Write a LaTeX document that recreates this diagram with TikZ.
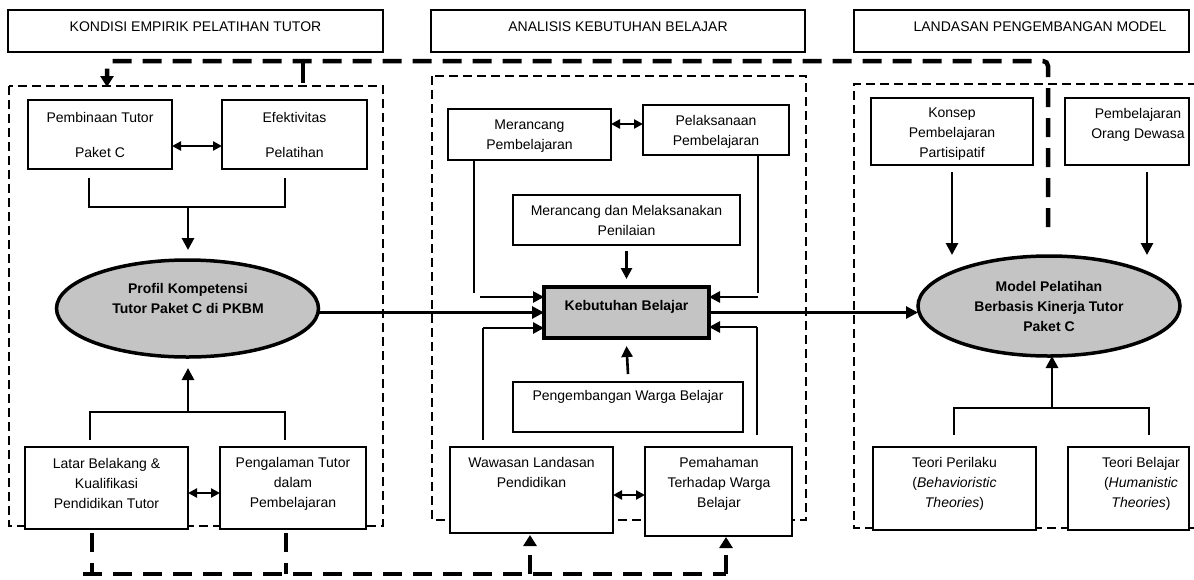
\documentclass[tikz,border=0pt]{standalone}
\usepackage{fontspec}
\setmainfont{Liberation Sans}
\usetikzlibrary{shapes.geometric,arrows.meta}
\begin{document}
\begin{tikzpicture}[x=1pt,y=-1pt,
  box/.style={draw, fill=white, line width=1.2pt, inner sep=0pt, outer sep=0pt},
  txt/.style={font=\fontsize{14}{20}\selectfont, align=center, inner sep=0pt, outer sep=0pt, anchor=north},
  btxt/.style={txt, font=\fontsize{14}{20}\selectfont\bfseries},
  ell/.style={ellipse, draw, fill=black!23, line width=3.5pt, inner sep=0pt, outer sep=0pt},
  conn/.style={line width=1.2pt},
  arr/.style={line width=2.8pt, -{Triangle[length=12pt,width=12pt]}},
  arrb/.style={line width=2.6pt, -{Triangle[length=11pt,width=11pt]}},
  darr/.style={line width=2.5pt, {Triangle[length=9pt,width=9pt]}-{Triangle[length=9pt,width=9pt]}},
  dzone/.style={line width=2.4pt, dash pattern=on 9pt off 5pt},
  bigdash/.style={line width=4.5pt, dash pattern=on 19pt off 11pt},
  bigtip/.style={-{Triangle[length=11pt,width=13pt]}}]
\useasboundingbox (0,0) rectangle (1194,579);

% dashed zones
\draw[dzone] (9,86) rectangle (383,526);
\draw[dzone] (432,76) rectangle (806,520);
\draw[dzone] (1197,84) -- (854,84) -- (854,528) -- (1197,528);

% headers
\node[box, minimum width=375pt, minimum height=42pt] (hdrL) at (195.5,31) {};
\node[txt] (hdrLt) at (195.5,22) {KONDISI EMPIRIK PELATIHAN TUTOR};
\node[box, minimum width=374pt, minimum height=42pt] (hdrM) at (618,31) {};
\node[txt] (hdrMt) at (618,22) {ANALISIS KEBUTUHAN BELAJAR};
\node[box, minimum width=335pt, minimum height=42pt] (hdrR) at (1021.5,31) {};
\node[txt] (hdrRt) at (1040,22) {LANDASAN PENGEMBANGAN MODEL};

% left column
\node[box, minimum width=144pt, minimum height=69pt] (pembinaan) at (100,134.5) {};
\node[txt] (pembinaant) at (100,112) {Pembinaan Tutor\\[15pt]Paket C};
\node[box, minimum width=145pt, minimum height=69pt] (efektivitas) at (294.5,134.5) {};
\node[txt] (efektivitast) at (294.5,112) {Efektivitas\\[15pt]Pelatihan};
\node[ell, minimum width=262pt, minimum height=97pt] (profil) at (187.5,308.5) {};
\node[btxt] (profilt) at (188,283) {Profil Kompetensi\\Tutor Paket C di PKBM};
\node[box, minimum width=163pt, minimum height=82pt] (latar) at (106.5,488) {};
\node[txt] (latart) at (106.5,458) {Latar Belakang \&\\Kualifikasi\\Pendidikan Tutor};
\node[box, minimum width=146pt, minimum height=82pt] (pengalaman) at (293,488) {};
\node[txt] (pengalamant) at (293,457) {Pengalaman Tutor\\dalam\\Pembelajaran};

% middle column
\node[box, minimum width=163pt, minimum height=51pt] (merancang) at (529.5,134.5) {};
\node[txt] (merancangt) at (529.5,120) {Merancang\\Pembelajaran};
\node[box, minimum width=146pt, minimum height=50pt] (pelaksanaan) at (716,130) {};
\node[txt] (pelaksanaant) at (716,115) {Pelaksanaan\\Pembelajaran};
\node[box, minimum width=227pt, minimum height=50pt] (penilaian) at (626.5,220) {};
\node[txt] (penilaiant) at (626.5,205) {Merancang dan Melaksanakan\\Penilaian};
\node[box, fill=black!23, line width=3.5pt, minimum width=165pt, minimum height=51pt] (keb) at (626.5,312.5) {};
\node[btxt] (kebt) at (626.5,300) {Kebutuhan Belajar};
\node[box, minimum width=230pt, minimum height=50pt] (pengembangan) at (628,407) {};
\node[txt] (pengembangant) at (628,390) {Pengembangan Warga Belajar};
\node[box, minimum width=163pt, minimum height=86pt] (wawasan) at (531.5,490) {};
\node[txt] (wawasant) at (531.5,457) {Wawasan Landasan\\Pendidikan};
\node[box, minimum width=147pt, minimum height=89pt] (pemahaman) at (718.5,491.5) {};
\node[txt] (pemahamant) at (719,457) {Pemahaman\\Terhadap Warga\\Belajar};

% right column
\node[box, minimum width=162pt, minimum height=67pt] (konsep) at (952,131.5) {};
\node[txt] (konsept) at (952,108) {Konsep\\Pembelajaran\\Partisipatif};
\node[box, minimum width=124pt, minimum height=67pt] (dewasa) at (1127,131.5) {};
\node[txt] (dewasat) at (1138,108) {Pembelajaran\\Orang Dewasa};
\node[ell, minimum width=262pt, minimum height=100pt] (model) at (1049,306) {};
\node[btxt] (modelt) at (1049,281) {Model Pelatihan\\Berbasis Kinerja Tutor\\Paket C};
\node[box, minimum width=163pt, minimum height=83pt] (teori1) at (954.5,488.5) {};
\node[txt] (teori1t) at (954.5,457) {Teori Perilaku\\(\textit{Behavioristic}\\\textit{Theories})};
\node[box, minimum width=121pt, minimum height=83pt] (teori2) at (1128.5,488.5) {};
\node[txt] (teori2t) at (1141,457) {Teori Belajar\\(\textit{Humanistic}\\\textit{Theories})};

% double arrows
\draw[darr] ([yshift=-11.5pt]pembinaan.east) -- ([yshift=-11.5pt]efektivitas.west);
\draw[darr] ([yshift=-5pt]latar.east) -- ([yshift=-5pt]pengalaman.west);
\draw[darr] ([yshift=10.5pt]merancang.east) -- ([yshift=6pt]pelaksanaan.west);
\draw[darr] ([yshift=-5pt]wawasan.east) -- ([yshift=-3.5pt]pemahaman.west);

% left brackets
\coordinate (a1) at (89,178); \coordinate (a2) at (89,207);
\coordinate (a3) at (285,207); \coordinate (a4) at (285,178);
\coordinate (a5) at (188,207);
\draw[conn] (a1) -- (a2) -- (a3) -- (a4);
\draw[arr, shorten >=10pt] (a5) -- (profil.north -| a5);
\coordinate (b1) at (90,440); \coordinate (b2) at (90,412);
\coordinate (b3) at (285,412); \coordinate (b4) at (285,440);
\coordinate (b5) at (188,412);
\draw[conn] (b1) -- (b2) -- (b3) -- (b4);
\draw[arr, shorten >=11pt] (b5) -- (profil.south -| b5);

% middle connectors
\coordinate (c1) at (474,293); \coordinate (c2) at (480,297);
\draw[conn] (merancang.south -| c1) -- (c1);
\draw[arrb] (c2) -- ([yshift=15.5pt]keb.west);
\coordinate (c3) at (758,293); \coordinate (c4) at (758,297);
\draw[conn] (pelaksanaan.south -| c3) -- (c3);
\draw[arrb] (c4) -- ([yshift=15.5pt]keb.east);
\coordinate (c5) at (483,440); \coordinate (c6) at (483,328);
\draw[conn] (c5) -- (c6);
\draw[arrb] (c6) -- ([yshift=-15.5pt]keb.west);
\coordinate (c7) at (757,435); \coordinate (c8) at (757,327);
\draw[conn] (c7) -- (c8);
\draw[arrb] (c8) -- ([yshift=-14.5pt]keb.east);
\draw[arrb] ([yshift=-6pt]penilaian.south) -- ([yshift=8pt]keb.north);
\draw[arrb] ([yshift=8pt]pengembangan.north) -- ([yshift=-8pt]keb.south);

% main arrows
\draw[arr] (profil.east |- keb.west) -- (keb.west);
\draw[arr] (keb.east) -- (model.west |- keb.east);

% right connectors
\coordinate (d1) at (952,255);
\draw[arr] ([yshift=-7pt]konsep.south) -- (d1);
\coordinate (d2) at (1147,172); \coordinate (d3) at (1147,255);
\draw[arr] (d2) -- (d3);
\coordinate (e1) at (954,435); \coordinate (e2) at (954,408);
\coordinate (e3) at (1149,408); \coordinate (e4) at (1149,435);
\coordinate (e5) at (1052,408);
\draw[conn] (e1) -- (e2) -- (e3) -- (e4);
\draw[arr] (e5) -- (e5 |- model.south);

% thick dashed feedback lines
\coordinate (f1) at (1048,227); \coordinate (f2) at (1048,61);
\coordinate (f3) at (107,61); \coordinate (f4) at (107,87);
\draw[bigdash, rounded corners=5pt, bigtip] (f1) -- (f2) -- (f3) -- (f4);
\coordinate (f5) at (303,61); \coordinate (f6) at (303,83);
\draw[line width=4.5pt] (f5) -- (f6);
\coordinate (g1) at (92,533); \coordinate (g2) at (92,574);
\coordinate (g3) at (286,533); \coordinate (g4) at (286,574);
\coordinate (g5) at (83,574); \coordinate (g6) at (726,574);
\coordinate (g7) at (530,574);
\draw[bigdash] (g1) -- (g2);
\draw[bigdash] (g3) -- (g4);
\draw[bigdash] (g5) -- (g6);
\draw[bigdash, bigtip, shorten >=2pt] (g7) -- (wawasan.south -| g7);
\draw[bigdash, bigtip, shorten >=1pt] (g6) -- (pemahaman.south -| g6);
\end{tikzpicture}
\end{document}
